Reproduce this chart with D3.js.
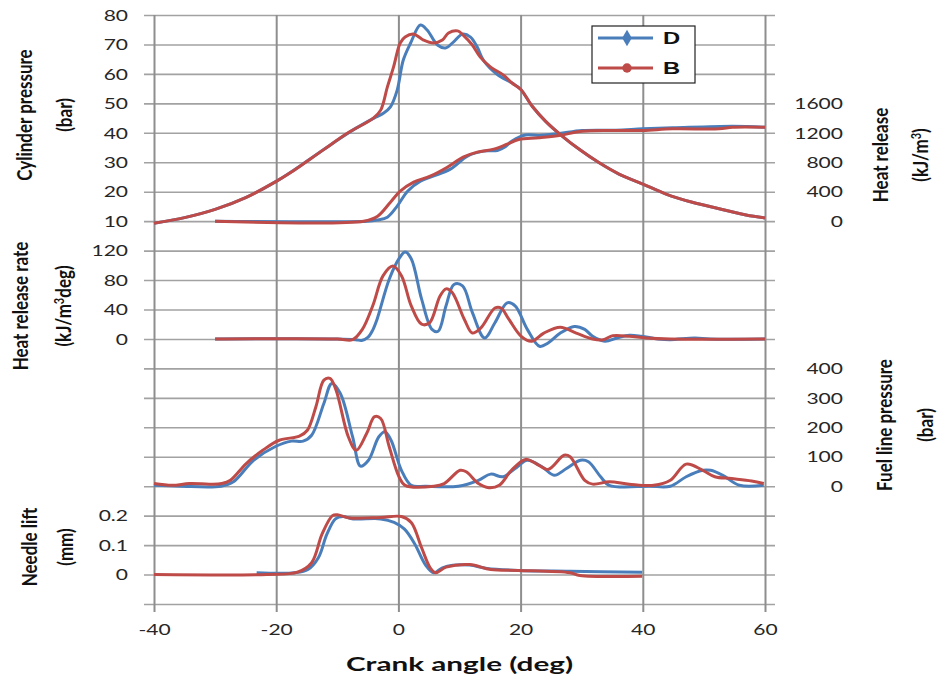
<!DOCTYPE html>
<html>
<head>
<meta charset="utf-8">
<script src="https://cdn.jsdelivr.net/npm/d3@7"></script>
<style>
  body { margin: 0; background: #fff; }
  svg { display: block; }
</style>
</head>
<body>
<svg id="viz"></svg>
<script>
// ---- data (crank angle in deg) ----
const xTicks = [-40, -20, 0, 20, 40, 60];
const seriesNames = ["D", "B"];

// cylinder pressure (bar)
const pressAngleD = [-40,-35,-30,-25,-20,-15,-10,-7,-4,-2.4,-1.3,-0.2,0.8,2.0,3.6,4.7,6.4,7.7,9.0,10.5,11.8,12.9,13.9,16.2,18.6,20,21.9,24.1,26.8,29.6,32.8,36.1,40,43.8,48.1,52.5,56.9,60];
const pressD      = [9.3,11.2,14,18,23.5,30.3,37.5,41.5,45,46.7,48.8,54.5,64.7,70.5,76.6,74.9,69.8,68.8,70.8,73.5,72.5,69.1,64.7,59.8,56.9,54.8,49,43.9,38.9,34.4,29.9,26,22.6,19.2,16.4,14.2,12.1,11.1];
const pressAngleB = [-40,-35,-30,-25,-20,-17.7,-12.3,-8.3,-4.1,-2.9,-1.8,-0.8,0.3,1.1,2.5,4.1,5.7,7.2,8.2,9.7,10.6,12.1,13.4,15.1,17.2,18.6,20,21.9,24.1,26.8,29.6,32.8,36.1,40,43.8,48.1,52.5,56.9,60];
const pressB      = [9.3,11.2,14,18,23.5,26.4,34.2,39.9,45,47.7,55.6,62.3,70.5,72.5,73.5,71.5,70.5,71.5,73.9,74.6,73.2,69.8,65.7,62.3,59.6,56.9,54.8,49,43.9,38.9,34.4,29.9,26,22.6,19.2,16.4,14.2,12.1,11.1];

// heat release (kJ/m3)
const hrAngleD = [-30,-5.1,-3.5,-1.8,-0.2,1.5,3.6,5.7,8.5,11.3,13.9,16.2,17.5,18.6,20.8,23,26.3,30.1,35.6,40,44.9,54.7,60];
const hrD      = [0,0,15,54,204,407,543,611,706,883,951,960,1010,1090,1170,1164,1191,1231,1236,1254,1267,1290,1276];
const hrAngleB = [-30,-5.7,-3.4,-1.3,0.3,2.5,5.2,8.0,10.6,12.9,15.6,17.8,19.7,23,26.3,30.1,35.6,40,44.9,52.5,54.7,60];
const hrB      = [0,0,68,258,407,530,611,733,869,937,978,1046,1110,1133,1164,1222,1231,1231,1254,1254,1276,1276];

// heat release rate (kJ/m3deg)
const hrrAngleD = [-30,-10,-7,-6,-5,-4.2,-3.5,-1.5,0.1,1.1,2.1,3.8,5.5,6.5,7.8,9.1,10.5,12.1,14.1,15.8,17.8,19.1,21.1,23.1,24.5,26.5,28.8,30.5,31.8,33.8,35.8,37.8,39.8,42.5,44.5,48.5,51,60];
const hrrD      = [0,0,-1,-2,2,12,26.5,81,109,118,109,54,13,10.5,45,74,72,36,1.4,22,49,45,13,-10,-5.5,8,17,13,3.6,-3,1.4,5,3.6,0,-1,1.4,0,0];
const hrrAngleB = [-30,-10,-7.5,-5.9,-4.2,-2.5,-0.9,0.5,2.1,3.8,5.1,6.8,7.8,8.8,10.8,12.1,13.5,15.8,16.8,18.1,20.1,21.8,23.8,26.5,29.1,31.8,33.5,35.1,37.8,40.5,44.5,60];
const hrrB      = [0,0,-1,13,45,86,99,86,45,20,22,58,68,63,26.5,8,15,42,42,26.5,3.6,-3,8,16,8,0,-1,4.5,3.6,1.4,0,0];

// fuel line pressure (bar)
const fuelAngleD = [-40,-35.7,-29,-27,-23.7,-20.2,-17.5,-15.6,-14.2,-12.2,-10.9,-9.5,-7.5,-6.2,-4.9,-3.2,-2.2,-1.2,0.5,2.1,4.5,9.8,13.1,15.1,17.1,19.1,21.1,23.5,25.5,27.5,29.8,31.1,33.1,34.5,41.1,44.5,47.1,49.8,51.1,53.1,55.8,59.8];
const fuelD      = [3,0,0,15,88,134,153,153,173,281,349,315,168,68,88,168,185,156,54,3,0,0,20,41,32,60,88,66,37,60,88,83,32,3,0,0,32,54,54,37,3,3];
const fuelAngleB = [-40,-37,-34.2,-30.9,-28.9,-27.5,-24.9,-22.2,-19.5,-16.2,-14.9,-13.5,-12.2,-11.2,-10.2,-8.2,-6.9,-5.2,-3.9,-2.9,-1.5,0.1,1.1,5.8,7.5,10.1,11.1,13.1,14.8,16.5,18.5,20.8,22.5,24.5,27.1,28.1,30.5,31.8,34.5,37.8,41.8,44.5,47.1,49.8,51.8,54.5,57.8,59.8];
const fuelB      = [9,3,9,7,9,20,77,122,156,170,190,270,360,366,326,168,122,179,236,230,134,32,3,0,9,54,49,9,-5,3,54,91,77,57,105,100,20,7,15,7,3,20,75,54,32,26,18,9];

// needle lift (mm)
const needleAngleD = [-23.2,-17,-14.8,-13.1,-11.7,-10.3,-9.1,-7.4,-2.9,-0.7,1,2.7,4.4,5.8,7.2,8.9,11.7,14.5,19.6,28.1,39.9];
const needleD      = [0.006,0.006,0.017,0.057,0.137,0.189,0.197,0.189,0.189,0.177,0.154,0.103,0.034,0.006,0.023,0.032,0.032,0.021,0.014,0.011,0.008];
const needleAngleB = [-40,-21.5,-16.5,-14.2,-12.5,-10.8,-10,-8,-2.9,0.5,2.1,3.8,5.2,6.1,7.8,11.7,15.1,19.6,28.1,29.7,39.9];
const needleB      = [0,0,0.008,0.04,0.137,0.2,0.203,0.192,0.194,0.197,0.177,0.091,0.023,0.006,0.025,0.034,0.017,0.014,0.006,-0.003,-0.006];

// axis tick labels
const pressTicks = [10,20,30,40,50,60,70,80];
const hrTicks = [0,400,800,1200,1600];
const hrrTicks = [0,40,80,120];
const fuelTicks = [0,100,200,300,400];
const needleTicks = [0,0.1,0.2];

// ---- layout ----
const width = 941, height = 679;
const blue = "#4a7ebb", red = "#be4b48";
const SX = 1.45; // the original picture is stretched sideways
const font = "Lato, 'Open Sans', sans-serif";

const svg = d3.select("#viz").attr("width", width).attr("height", height);

const x = d3.scaleLinear().domain([-40, 60]).range([154, 765]);
// the whole figure shares one grid of 20 rows
const row = d3.scaleLinear().domain([0, 20]).range([15, 604]);

const yPress = d3.scaleLinear().domain([80, 10]).range([row(0), row(7)]);
const yHr = d3.scaleLinear().domain([1600, 0]).range([row(3), row(7)]);
const yHrr = d3.scaleLinear().domain([120, 0]).range([row(8), row(11)]);
const yFuel = d3.scaleLinear().domain([400, 0]).range([row(12), row(16)]);
const yNeedle = d3.scaleLinear().domain([0.2, 0]).range([row(17), row(19)]);

// grid: horizontal lines with ticks on both sides
svg.append("g")
  .attr("class", "hgrid")
  .attr("transform", `translate(${x(60) + 10},0)`)
  .call(d3.axisLeft(row).tickValues(d3.range(0, 21)).tickSize(x(60) - x(-40) + 20).tickFormat(""))
  .call(g => g.select(".domain").remove())
  .call(g => g.selectAll("line").attr("stroke", "#a2a2a2").attr("stroke-width", 1.6));

// grid: vertical lines, ticks hang below the x axis
svg.append("g")
  .attr("class", "vgrid")
  .attr("transform", `translate(0,${row(20) + 8})`)
  .call(d3.axisTop(x).tickValues(xTicks).tickSize(row(20) + 8 - row(0)).tickFormat(""))
  .call(g => g.select(".domain").remove())
  .call(g => g.selectAll("line").attr("stroke", "#8e8e8e").attr("stroke-width", 2));

// tick labels
function labelAxis(axis, tx, anchor, off) {
  const g = svg.append("g").attr("transform", `translate(${tx},0)`)
    .call(axis.tickSize(0))
    .call(g => g.select(".domain").remove());
  g.selectAll("text")
    .attr("x", off / SX)
    .attr("dy", "0.36em")
    .attr("text-anchor", anchor)
    .attr("transform", `scale(${SX},1)`)
    .attr("fill", "#262626")
    .style("font-family", font)
    .style("font-size", "14.5px");
  return g;
}
const fmt = d => String(d);
labelAxis(d3.axisLeft(yPress).tickValues(pressTicks).tickFormat(fmt), x(-40), "end", -26);
labelAxis(d3.axisLeft(yHrr).tickValues(hrrTicks).tickFormat(fmt), x(-40), "end", -26);
labelAxis(d3.axisLeft(yNeedle).tickValues(needleTicks).tickFormat(fmt), x(-40), "end", -26);
labelAxis(d3.axisRight(yHr).tickValues(hrTicks).tickFormat(fmt), x(60), "end", 78);
labelAxis(d3.axisRight(yFuel).tickValues(fuelTicks).tickFormat(fmt), x(60), "end", 78);

const xa = svg.append("g").attr("transform", `translate(0,${row(20)})`)
  .call(d3.axisBottom(x).tickValues(xTicks).tickFormat(fmt).tickSize(0))
  .call(g => g.select(".domain").remove());
xa.selectAll("text")
  .attr("y", 0).attr("dy", "2.15em")
  .attr("transform", `scale(${SX},1)`)
  .attr("fill", "#262626")
  .style("font-family", font)
  .style("font-size", "14.5px");

// series lines
const curve = d3.curveCatmullRom.alpha(0.5);
function drawSeries(angles, values, yScale, color) {
  const pts = angles.map((a, i) => [a, values[i]]);
  svg.append("path")
    .datum(pts)
    .attr("fill", "none")
    .attr("stroke", color)
    .attr("stroke-width", 3)
    .attr("stroke-linejoin", "round")
    .attr("d", d3.line().curve(curve).x(d => x(d[0])).y(d => yScale(d[1])));
}
drawSeries(pressAngleD, pressD, yPress, blue);
drawSeries(hrAngleD, hrD, yHr, blue);
drawSeries(hrrAngleD, hrrD, yHrr, blue);
drawSeries(fuelAngleD, fuelD, yFuel, blue);
drawSeries(needleAngleD, needleD, yNeedle, blue);
drawSeries(pressAngleB, pressB, yPress, red);
drawSeries(hrAngleB, hrB, yHr, red);
drawSeries(hrrAngleB, hrrB, yHrr, red);
drawSeries(fuelAngleB, fuelB, yFuel, red);
drawSeries(needleAngleB, needleB, yNeedle, red);

// axis titles (rotated, two lines each)
function vTitle(lines, cy) {
  lines.forEach(l => {
    const t = svg.append("text")
      .attr("transform", `translate(${l.x},${cy}) rotate(-90) scale(1,1.2)`)
      .attr("text-anchor", "middle")
      .attr("dy", "0.35em")
      .style("font-family", font)
      .style("font-weight", "bold")
      .style("font-size", "17px")
      .attr("fill", "#111");
    l.parts.forEach(p => {
      t.append("tspan").text(p.t)
        .attr("baseline-shift", p.sup ? "super" : null)
        .style("font-size", p.sup ? "11px" : null);
    });
  });
}
vTitle([{x: 25, parts: [{t: "Cylinder pressure"}]}, {x: 65, parts: [{t: "(bar)"}]}], 115);
vTitle([{x: 21, parts: [{t: "Heat release rate"}]}, {x: 64, parts: [{t: "(kJ/m"}, {t: "3", sup: true}, {t: "deg)"}]}], 306);
vTitle([{x: 30, parts: [{t: "Needle lift"}]}, {x: 66, parts: [{t: "(mm)"}]}], 547);
vTitle([{x: 881, parts: [{t: "Heat release"}]}, {x: 921, parts: [{t: "(kJ/m"}, {t: "3", sup: true}, {t: ")"}]}], 155);
vTitle([{x: 885, parts: [{t: "Fuel line pressure"}]}, {x: 926, parts: [{t: "(bar)"}]}], 425);

svg.append("text")
  .attr("transform", `translate(${(x(-40) + x(60)) / 2},665) scale(1.65,1)`)
  .attr("text-anchor", "middle")
  .attr("dy", "0.35em")
  .style("font-family", font)
  .style("font-weight", "bold")
  .style("font-size", "18px")
  .attr("fill", "#111")
  .text("Crank angle (deg)");

// legend
const legend = svg.append("g").attr("class", "legend");
legend.append("rect")
  .attr("x", 592).attr("y", 26).attr("width", 103).attr("height", 57)
  .attr("fill", "#fff").attr("stroke", "#222").attr("stroke-width", 1.2);
const items = legend.selectAll(".item").data(seriesNames).join("g")
  .attr("class", "item")
  .attr("transform", (d, i) => `translate(598,${38 + i * 30})`);
items.append("line").attr("x1", 0).attr("x2", 55)
  .attr("stroke", (d, i) => i ? red : blue).attr("stroke-width", 3);
items.append("path")
  .attr("transform", "translate(29,0)")
  .attr("d", (d, i) => d3.symbol(i ? d3.symbolCircle : d3.symbolDiamond, i ? 70 : 80)())
  .attr("fill", (d, i) => i ? red : blue);
items.append("text")
  .attr("transform", `translate(65,0) scale(1.4,1)`)
  .attr("dy", "0.36em")
  .style("font-family", "'Liberation Sans', Arial, sans-serif")
  .style("font-weight", "bold")
  .style("font-size", "17px")
  .attr("fill", "#111")
  .text(d => d);
</script>
</body>
</html>
